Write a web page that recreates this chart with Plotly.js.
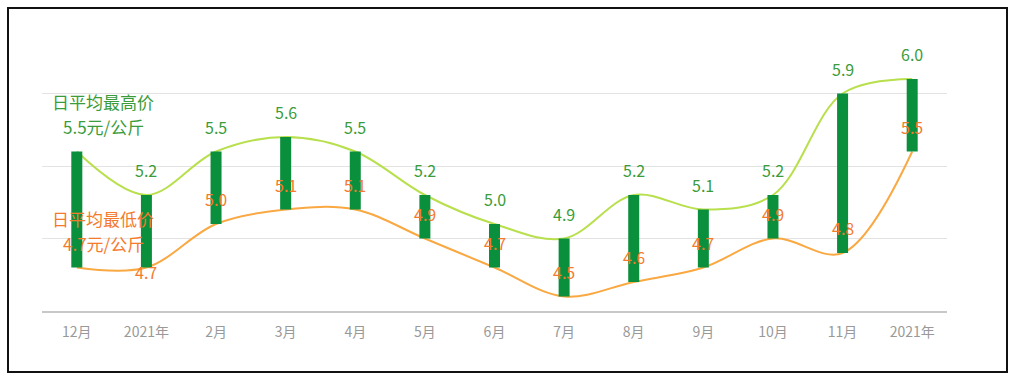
<!DOCTYPE html>
<html>
<head>
<meta charset="utf-8">
<script src="https://cdn.plot.ly/plotly-3.0.1.min.js"></script>
<style>
  html, body { margin:0; padding:0; background:#fff; }
  #wrap { position:relative; width:1015px; height:381px; }
  #frame { position:absolute; left:7px; top:7px; width:997px; height:362px; border:2px solid #111; pointer-events:none; }
  #chart { position:absolute; left:0; top:0; width:1015px; height:381px; }
</style>
</head>
<body>
<div id="wrap"><div id="chart"></div><div id="frame"></div></div>
<script>
const categories = ["12月","2021年","2月","3月","4月","5月","6月","7月","8月","9月","10月","11月","2021年"];
const highValues = [5.5, 5.2, 5.5, 5.6, 5.5, 5.2, 5.0, 4.9, 5.2, 5.1, 5.2, 5.9, 6.0];
const lowValues  = [4.7, 4.7, 5.0, 5.1, 5.1, 4.9, 4.7, 4.5, 4.6, 4.7, 4.9, 4.8, 5.5];
const highLegend = ["日平均最高价", "5.5元/公斤"];
const lowLegend  = ["日平均最低价", "4.7元/公斤"];

const idx = categories.map((c, i) => i);
const FONT = '"Noto Sans CJK SC", "Noto Sans", sans-serif';
const GREEN_BAR = '#0a8f3c', HIGH_LINE = '#b8df4c', LOW_LINE = '#f9a842';
const HIGH_TXT = '#3a9c3a', LOW_TXT = '#f47a2c';

// bars as thick vertical segments (drawn above the smooth lines)
const bx = [], by = [];
idx.forEach(i => { bx.push(i, i, null); by.push(lowValues[i], highValues[i], null); });

const traces = [
  { x: idx, y: lowValues, type: 'scatter', mode: 'lines', line: {color: LOW_LINE, width: 2, shape: 'spline', smoothing: 1}, hoverinfo: 'skip' },
  { x: idx, y: highValues, type: 'scatter', mode: 'lines', line: {color: HIGH_LINE, width: 2, shape: 'spline', smoothing: 1}, hoverinfo: 'skip' },
  { x: bx, y: by, type: 'scatter', mode: 'lines', line: {color: GREEN_BAR, width: 11}, hoverinfo: 'skip' }
];

const annotations = [];
idx.forEach(i => {
  if (i === 0) return;
  annotations.push({ x: i, y: highValues[i], xref: 'x', yref: 'y', text: highValues[i].toFixed(1), showarrow: false,
    yshift: 25, font: {family: FONT, size: 16, color: HIGH_TXT} });
  annotations.push({ x: i, y: lowValues[i], xref: 'x', yref: 'y', text: lowValues[i].toFixed(1), showarrow: false,
    yshift: i === 1 ? -4 : 25, font: {family: FONT, size: 16, color: LOW_TXT} });
});
// left-side legend-style labels, one annotation per line, anchored at the first point
const legendX = 0.38;
highLegend.forEach((t, k) => annotations.push({ x: legendX, y: highValues[0], xref: 'x', yref: 'y', text: t, showarrow: false,
  yshift: 50 - 25 * k, font: {family: FONT, size: 17, color: HIGH_TXT} }));
lowLegend.forEach((t, k) => annotations.push({ x: legendX, y: lowValues[0], xref: 'x', yref: 'y', text: t, showarrow: false,
  yshift: 49 - 25 * k, font: {family: FONT, size: 17, color: LOW_TXT} }));

const layout = {
  width: 1015, height: 381,
  margin: {l: 42, r: 68, t: 21, b: 70},
  paper_bgcolor: 'rgba(0,0,0,0)', plot_bgcolor: '#fff',
  showlegend: false,
  xaxis: {
    range: [-0.5, categories.length - 0.5],
    tickmode: 'array', tickvals: idx, ticktext: categories,
    showgrid: false, zeroline: false,
    showline: true, linecolor: '#c8c8c8', linewidth: 1.5,
    ticks: '', ticklabelstandoff: 8,
    tickfont: {family: FONT, size: 14, color: '#999'}
  },
  yaxis: {
    range: [4.4, 6.4],
    tickmode: 'array', tickvals: [4.9, 5.4, 5.9],
    showticklabels: false, showgrid: true, gridcolor: '#e3e3e3', gridwidth: 1,
    zeroline: false, showline: false
  },
  annotations: annotations
};

Plotly.newPlot('chart', traces, layout, {displayModeBar: false, staticPlot: true});
</script>
</body>
</html>
